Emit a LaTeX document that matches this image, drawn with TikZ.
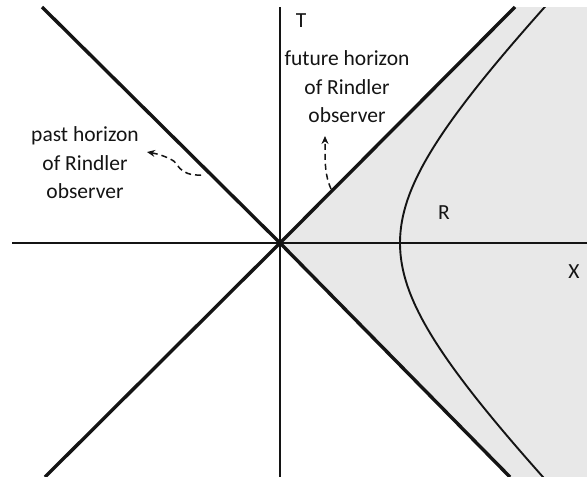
\documentclass[tikz,border=0pt]{standalone}
\usepackage{fontspec}
\setmainfont{Carlito}
\usetikzlibrary{arrows.meta}
\definecolor{wedgegray}{RGB}{232,232,232}
\definecolor{ink}{RGB}{20,20,20}
\begin{document}
\begin{tikzpicture}[x=1pt,y=-1pt,
  horizon/.style={draw=ink,line width=3.4pt},
  axis/.style={draw=ink,line width=2.9pt},
  worldline/.style={draw=ink,line width=1.9pt},
  pointer/.style={draw=ink,line width=1.5pt,dash pattern=on 6pt off 4pt,-{Stealth[length=8pt,width=7pt]}},
  lbl/.style={font=\fontsize{21.5}{28.5}\selectfont,text=ink,inner sep=0pt,align=center}]
\useasboundingbox (0,0) rectangle (587,477);
\coordinate (O) at (280,243);
\coordinate (TL) at (42,7);
\coordinate (TR) at (515,7);
\coordinate (BL) at (45,477);
\coordinate (BR) at (510,477);
\coordinate (XL) at (12,243);
\coordinate (XR) at (587,243);
\coordinate (TT) at (280,7);
\coordinate (TB) at (280,477);
% shaded Rindler wedge
\fill[wedgegray] (O) -- (TR) -- (587,7) -- (587,477) -- (BR) -- cycle;
% hyperbola
\begin{scope}
\clip (0,7) rectangle (587,477);
\draw[worldline] plot[domain=-1.45:1.45,samples=80,smooth,variable=\t] ({280+120*cosh(\t)},{243-120*sinh(\t)});
\end{scope}
% axes
\draw[axis] (XL) -- (XR);
\draw[axis] (TT) -- (TB);
% horizons
\draw[horizon] (O) -- (TL);
\draw[horizon] (O) -- (TR);
\draw[horizon] (O) -- (BL);
\draw[horizon] (O) -- (BR);
% labels
\node[lbl] (T) at (301,21) {T};
\node[lbl] (X) at (574,272) {X};
\node[lbl] (R) at (444,213) {R};
\node[lbl,anchor=center] (fut) at (347,87) {future horizon\\of Rindler\\observer};
\node[lbl,anchor=center] (past) at (85,163) {past horizon\\of Rindler\\observer};
% pointers
\coordinate (pa) at (201,175);
\coordinate (pb) at (147,152);
\draw[pointer] (pa) .. controls (178,176) and (178,162) .. (172,160) .. controls (165,156) and (158,154) .. (pb);
\coordinate (fa) at (331,189);
\coordinate (fb) at (325,136);
\draw[pointer] (fa) .. controls (325,175) and (325,165) .. (fb);
\end{tikzpicture}
\end{document}
